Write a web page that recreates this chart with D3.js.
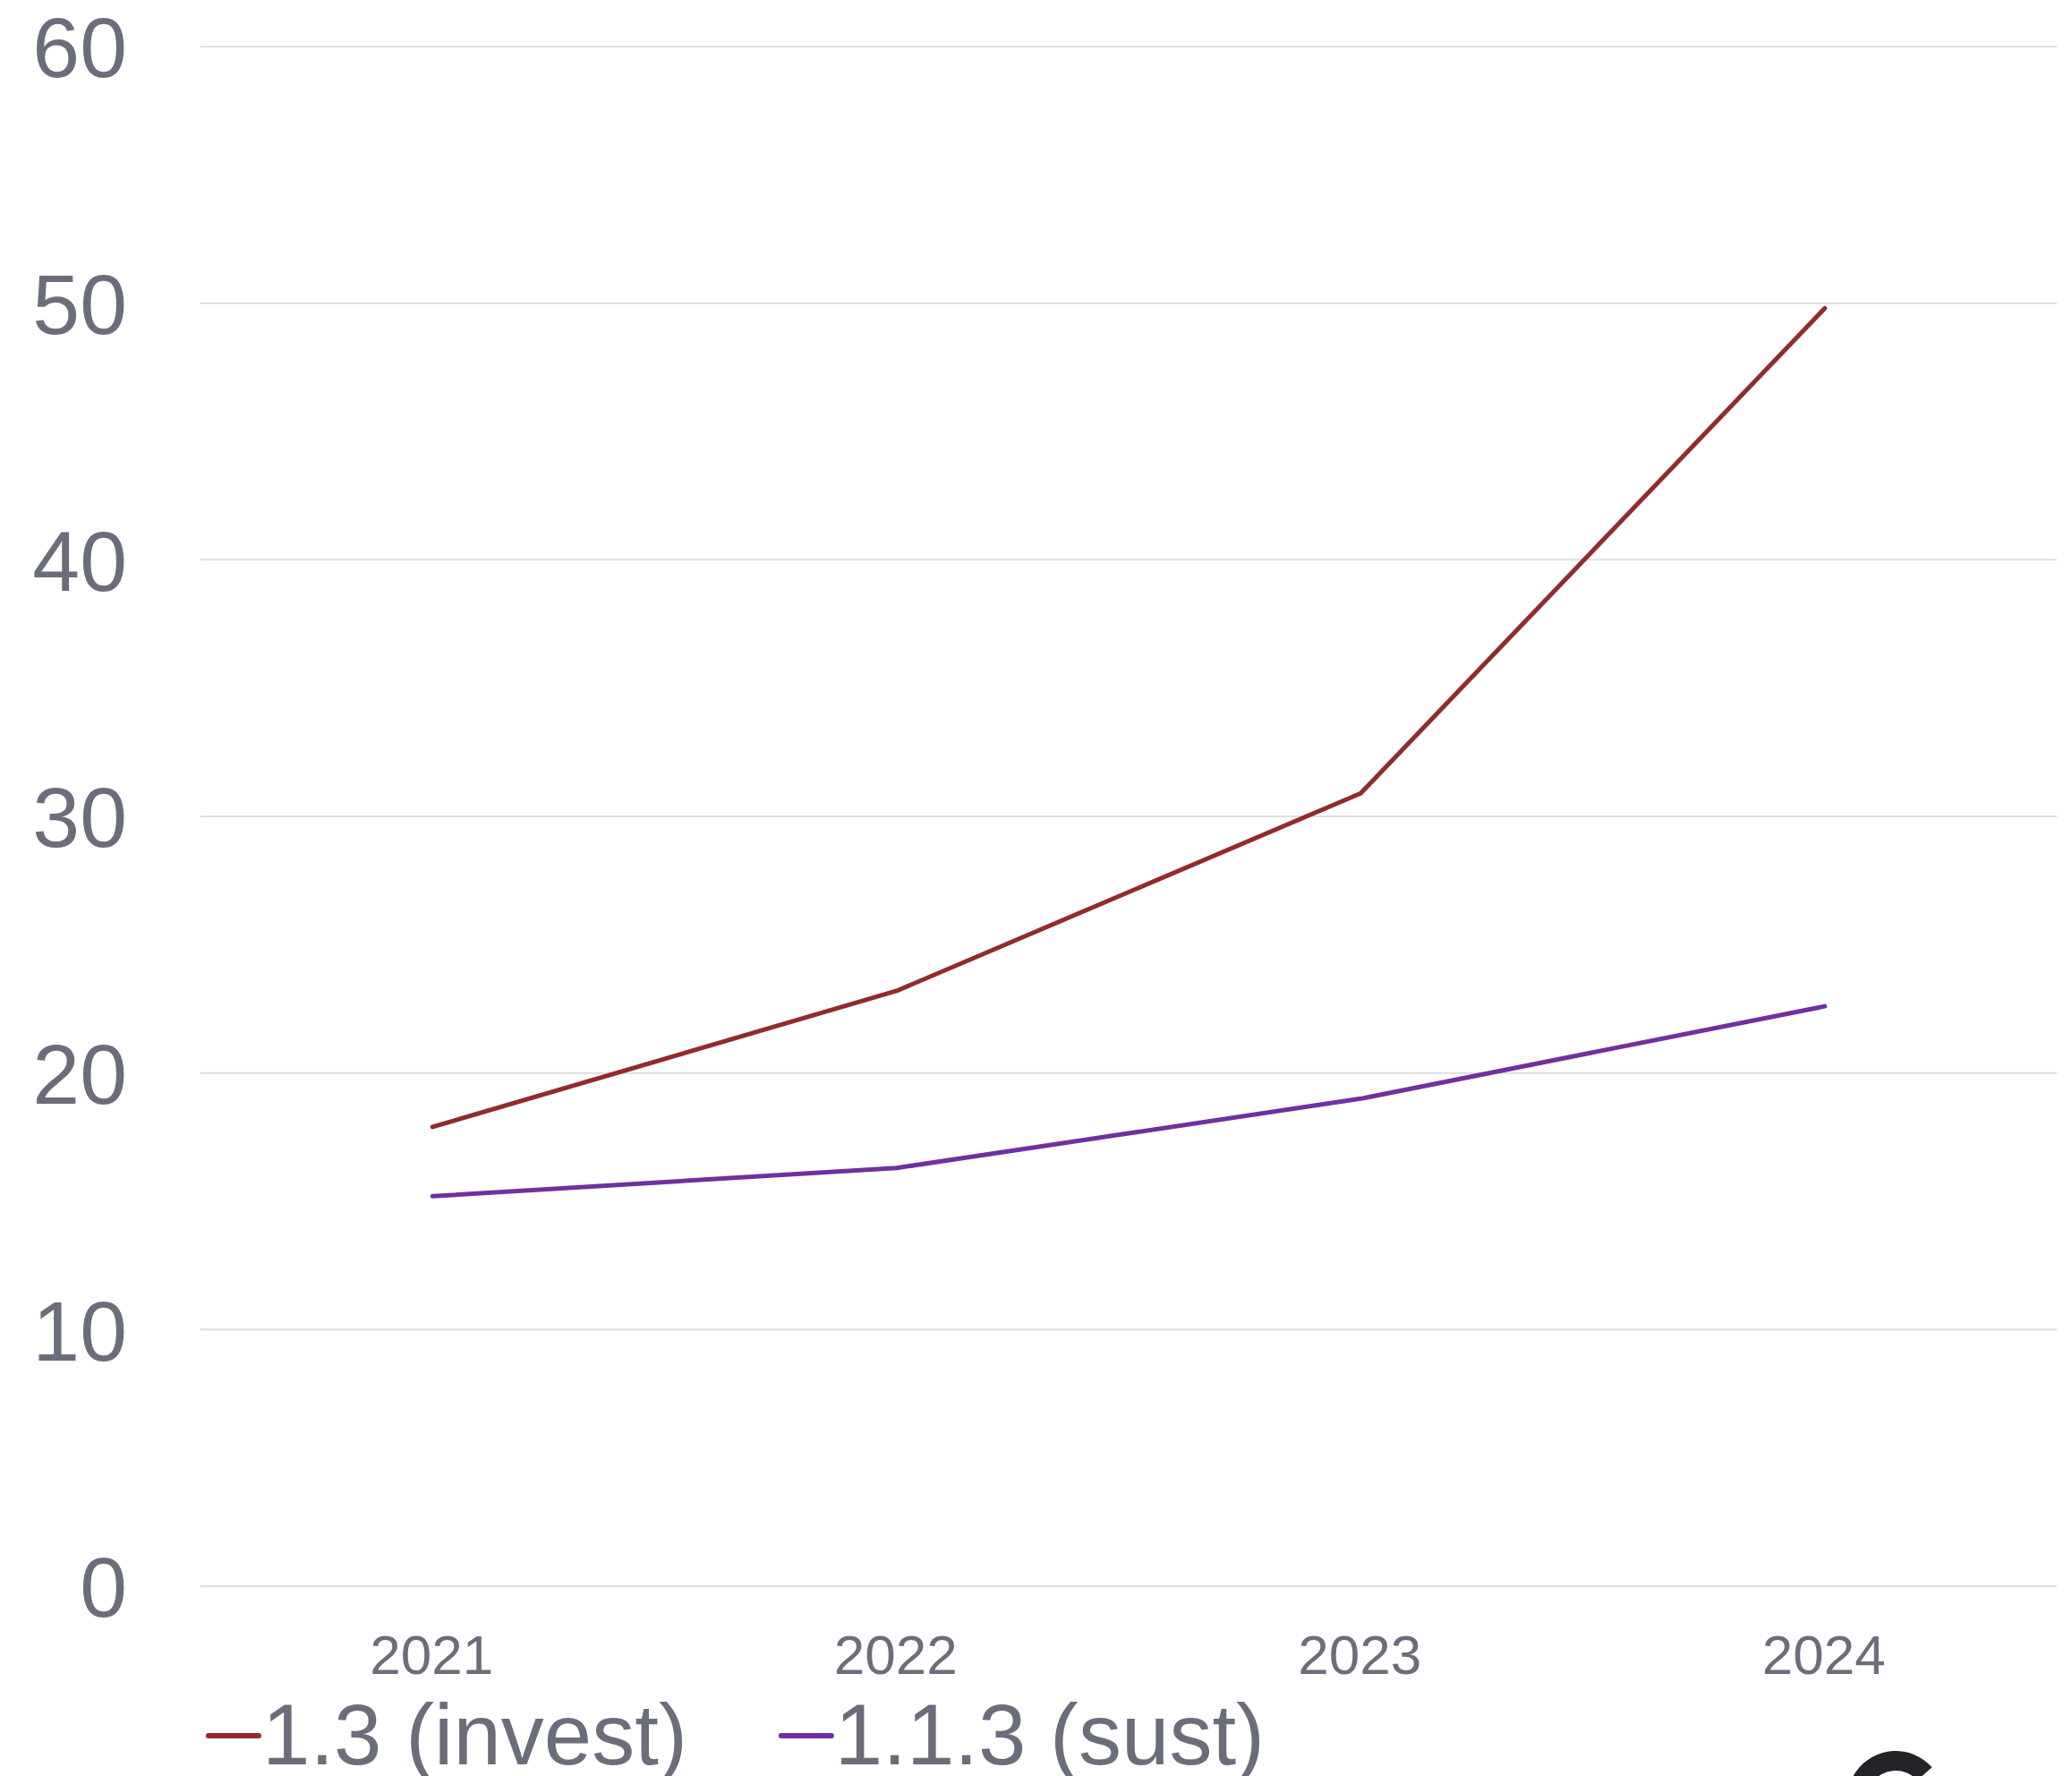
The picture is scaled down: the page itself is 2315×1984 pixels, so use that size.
<html>
	<head>
		<meta charset="utf-8">
		<title>chart</title>
		<script src="https://cdn.jsdelivr.net/npm/d3@7/dist/d3.min.js"></script>
		<style type="text/css">
			body { margin: 0; background: #fff; }
			text { font-family: "Liberation Sans", Arial, sans-serif; fill: #6b6e7a; }
		</style>
	</head>
	<body>
		<svg id="svg" width="2315" height="1984"></svg>
		<script type="text/javascript">
			// data
			var years = ["2021", "2022", "2023", "2024"];
			var invest = [17.9, 23.2, 30.9, 49.8];
			var sust = [15.2, 16.3, 19.0, 22.6];
			var seriesNames = ["1.3 (invest)", "1.1.3 (sust)"];
			var yTicks = [0, 10, 20, 30, 40, 50, 60];

			var plotLeft = 224, plotRight = 2298, plotTop = 52, plotBottom = 1772;
			var colors = ["#932a2e", "#7030a0"];

			var svg = d3.select("#svg");

			var x = d3.scalePoint().domain(years).range([plotLeft, plotRight]).padding(0.5);
			var y = d3.scaleLinear().domain([0, 60]).range([plotBottom, plotTop]);

			// grid
			svg.append("g").selectAll("line").data(yTicks).enter()
				.append("line")
				.attr("x1", plotLeft).attr("x2", plotRight)
				.attr("y1", function(d){ return y(d); })
				.attr("y2", function(d){ return y(d); })
				.style("stroke", "#dedfe2")
				.style("stroke-width", 2);

			// y labels
			svg.append("g").selectAll("text").data(yTicks).enter()
				.append("text")
				.attr("x", 142)
				.attr("y", function(d){ return y(d); })
				.attr("dy", "0.36em")
				.attr("text-anchor", "end")
				.attr("font-size", 95)
				.text(function(d){ return d; });

			// x labels
			svg.append("g").selectAll("text").data(years).enter()
				.append("text")
				.attr("x", function(d){ return x(d) - 1; })
				.attr("y", 1870)
				.attr("text-anchor", "middle")
				.attr("font-size", 62)
				.text(function(d){ return d; });

			// lines
			var line = d3.line()
				.x(function(d, i){ return x(years[i]); })
				.y(function(d){ return y(d); });

			svg.append("g").selectAll("path").data([invest, sust]).enter()
				.append("path")
				.attr("d", line)
				.attr("fill", "none")
				.attr("stroke", function(d, i){ return colors[i]; })
				.attr("stroke-width", 5)
				.attr("stroke-linecap", "round")
				.attr("stroke-linejoin", "round");

			// legend (cut by the bottom edge, as in the source)
			var lx = 233;
			var leg = svg.append("g");
			seriesNames.forEach(function(name, i){
				leg.append("line")
					.attr("x1", lx).attr("x2", lx + 56)
					.attr("y1", 1939).attr("y2", 1939)
					.attr("stroke", colors[i])
					.attr("stroke-width", 6)
					.attr("stroke-linecap", "round");
				var t = leg.append("text")
					.attr("x", lx + 60)
					.attr("y", 1971)
					.attr("font-size", 96)
					.text(name);
				lx = lx + 60 + t.node().getComputedTextLength() + 105;
			});

			// logo, cut by the bottom edge
			var logo = svg.append("g").attr("transform", "translate(2118,2010)");
			logo.append("path")
				.attr("d", d3.arc()({ innerRadius: 32, outerRadius: 54, startAngle: -4.6, endAngle: 0.85 }))
				.attr("fill", "#232427");
			logo.append("circle")
				.attr("cx", 104).attr("cy", -16).attr("r", 3)
				.attr("fill", "#232427");
		</script>
	</body>
</html>
